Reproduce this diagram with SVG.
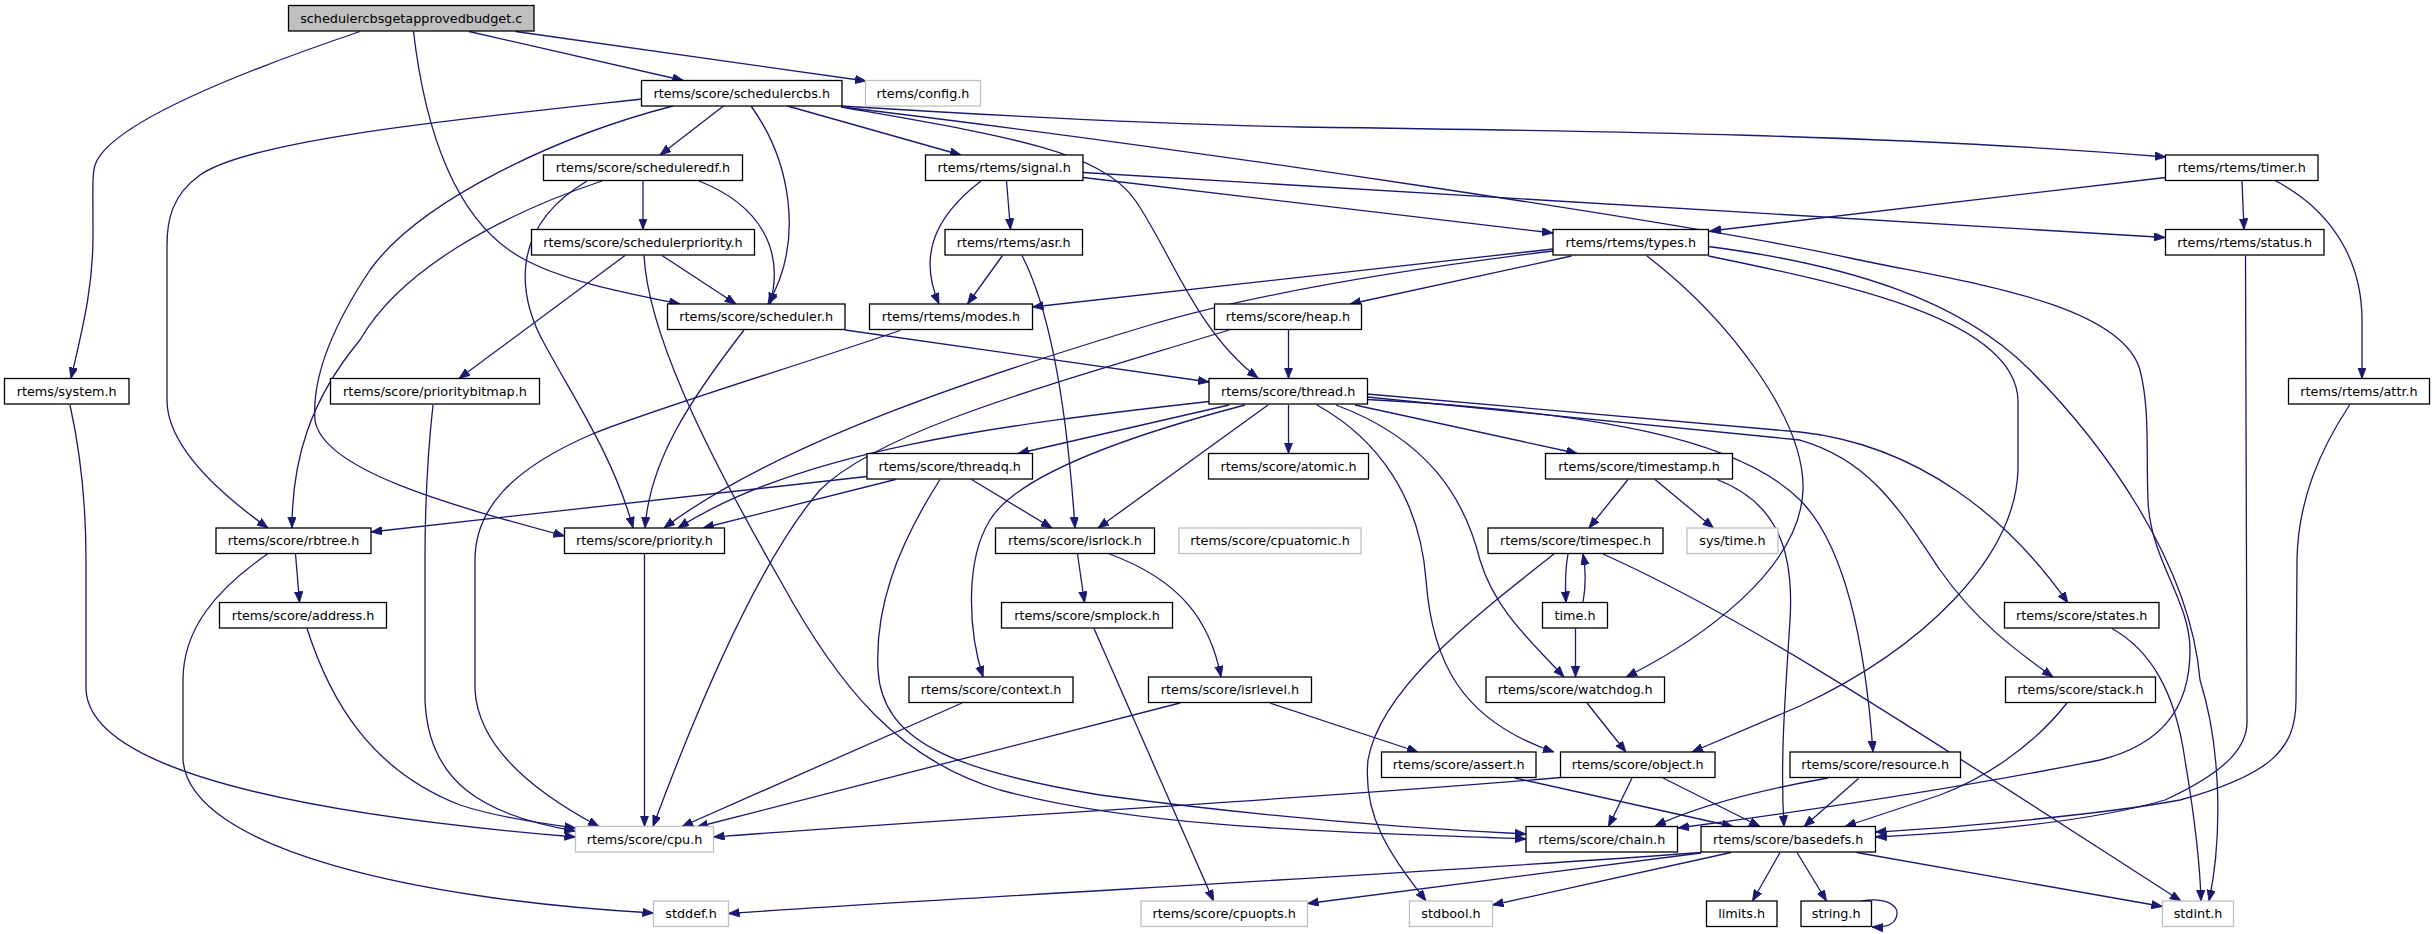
<svg xmlns="http://www.w3.org/2000/svg" width="2435" height="934" viewBox="0 0 2435 934">
<style>
.node rect{fill:#fff;stroke:#000;stroke-width:1.3}
.ext rect{stroke:#bfbfbf}
.main rect{fill:#bfbfbf}
text{font-family:'DejaVu Sans','Liberation Sans',sans-serif;font-size:12.8px;text-anchor:middle;fill:#000}
.e path{fill:none;stroke:#191970;stroke-width:1.3;marker-end:url(#ah)}
</style>
<defs>
<marker id="ah" markerWidth="12" markerHeight="9" refX="11" refY="4.2" orient="auto" markerUnits="userSpaceOnUse"><path d="M0,0 L11,4.2 L0,8.4 z" fill="#191970" stroke="#191970" stroke-width="0.8"/></marker>
</defs>
<rect width="2435" height="934" fill="#fff"/>
<g id="connectors" class="e">
<path d="M360,31.5 C270,62 110,120 95,165 C92,175 93,190 93,235 C93,290 82,330 71,378.5"/>
<path d="M469,31.5 L683.5,80.5"/>
<path d="M515.5,31.5 L866,81"/>
<path d="M413.5,31.5 C425,130 455,220 520,257 C560,280 620,292 680,304"/>
<path d="M723.5,106 L660,155"/>
<path d="M751,106 C790,160 805,240 768,304"/>
<path d="M787.5,106 L961,155"/>
<path d="M842,106 C1000,116 1150,124 1300,127 C1600,131 1900,135 2166,157"/>
<path d="M842,107 C1200,150 1700,225 1850,258 C1950,280 2120,300 2140,370 C2150,410 2146,450 2148,500 C2150,560 2190,600 2190,650 C2190,710 2160,745 2100,760 C2000,780 1850,805 1678,828"/>
<path d="M841,107 C1000,135 1100,150 1135,200 C1170,250 1195,330 1258,378"/>
<path d="M642,99 C450,120 250,140 200,175 C172,195 167,220 167,245 L167,400 C167,445 215,490 268,528"/>
<path d="M673,106 C560,135 420,200 370,270 C330,330 312,380 315,420 C322,470 450,505 564.5,536"/>
<path d="M643,181 L643,229.5"/>
<path d="M699,181 C760,205 785,250 770,304"/>
<path d="M602,181 C500,215 400,270 360,340 C310,400 292,460 292,528"/>
<path d="M587,181 C505,230 520,300 545,345 C575,400 615,460 633,528"/>
<path d="M662,255.5 L736,304"/>
<path d="M625,255.5 L459,378.5"/>
<path d="M644,255.5 C648,330 700,440 780,580 C840,690 900,760 1000,790 C1150,830 1350,832 1526,839"/>
<path d="M981,181 C930,220 920,260 939,304"/>
<path d="M1006.5,181 L1010.5,229.5"/>
<path d="M1083,177.5 L1553,233"/>
<path d="M1083,172.5 L2165,237.5"/>
<path d="M2165.5,177.5 L1710,231"/>
<path d="M2242,181 L2244,229.5"/>
<path d="M2276,181 C2340,215 2362,270 2362,320 L2362,378.5"/>
<path d="M1002.5,255.5 L967.5,304"/>
<path d="M1022,255.5 C1045,300 1065,380 1075,528"/>
<path d="M1553,249 L1032.5,307"/>
<path d="M1553,251 C1400,270 1250,295 1150,325 C1000,370 780,440 664,528"/>
<path d="M1571.5,256 L1350,304"/>
<path d="M1647,256 C1730,320 1805,420 1803,490 C1800,570 1700,640 1626,677"/>
<path d="M1708.5,256 C1850,285 2015,320 2018,400 L2018,470 C2015,560 1920,650 1800,706 L1692,752"/>
<path d="M1708.5,246.5 C1850,265 1960,300 2030,370 C2100,440 2190,560 2200,680 C2222,750 2222,840 2209,901"/>
<path d="M1288.5,330 L1288.5,378.5"/>
<path d="M1229,330 C1050,385 880,430 820,490 C760,560 700,700 653,826.5"/>
<path d="M900,330.5 C800,365 650,410 590,435 C510,470 475,510 475,560 L475,690 C478,745 530,790 599,826.5"/>
<path d="M744,330 C690,400 650,460 645,528"/>
<path d="M845,330 L1209,382"/>
<path d="M70,405 C80,450 86,500 86,560 L86,690 C90,760 250,810 575.5,837"/>
<path d="M433,405 C428,450 425,500 425,560 L425,700 C428,780 480,815 575.5,831"/>
<path d="M295.5,554 L299.5,602.5"/>
<path d="M267.5,554 C215,590 183,630 183,680 L183,760 C190,850 420,900 653.5,913"/>
<path d="M307,628.5 C330,700 370,770 460,805 C490,815 530,822 575.5,828"/>
<path d="M644.5,554 L644.5,826.5"/>
<path d="M867,476.5 L371,532"/>
<path d="M895.5,479.5 L703,528"/>
<path d="M971.5,479.5 L1052,528"/>
<path d="M940,479.5 C895,550 875,610 878,670 C882,740 950,770 1100,795 C1250,815 1400,828 1526,834"/>
<path d="M1209,401.5 C1000,425 800,450 678,528"/>
<path d="M1229,405 L1018,453.5"/>
<path d="M1245,405 C1150,430 1020,470 990,520 C965,560 968,630 983,677"/>
<path d="M1268,405 L1098,528"/>
<path d="M1288.5,405 L1288.5,453.5"/>
<path d="M1355,405 L1577.5,453.5"/>
<path d="M1317,405 C1380,440 1420,500 1426,580 C1432,660 1460,720 1554,752"/>
<path d="M1336,405 C1430,440 1465,500 1480,560 C1495,610 1530,640 1564,677"/>
<path d="M1367,394 L1800,432 C1920,445 2010,520 2068,603"/>
<path d="M1367,397 L1800,440 C1870,460 1900,510 1940,570 C1975,620 2015,650 2053,677"/>
<path d="M1367,399.5 C1600,412 1740,440 1800,500 C1845,545 1865,640 1873,752"/>
<path d="M1077.5,554 L1084.5,602.5"/>
<path d="M1109.5,554 C1180,580 1210,620 1221,677"/>
<path d="M1094,628.5 L1213.5,901"/>
<path d="M962,703 L682,826.5"/>
<path d="M1180,703 L697,827"/>
<path d="M1270,703 L1418,752"/>
<path d="M1628,479.5 L1589,528"/>
<path d="M1655,479.5 L1713.5,528"/>
<path d="M1717,479.5 C1770,500 1795,540 1790,620 C1785,700 1780,760 1784,826.5"/>
<path d="M1568,554 C1565,570 1565,585 1566,602.5"/>
<path d="M1554,554 C1470,620 1380,690 1368,760 C1362,820 1395,860 1426,901"/>
<path d="M1603,554 C1750,620 1900,720 2181,901"/>
<path d="M1583,602.5 C1586,585 1586,570 1583,554"/>
<path d="M1575.5,628.5 L1575.5,677"/>
<path d="M1587,703 L1626,752"/>
<path d="M1515,778 L1733,826.5"/>
<path d="M1561,777.5 C1300,800 1000,815 713.5,837"/>
<path d="M1632,778 L1608.5,826.5"/>
<path d="M1663,778 L1760,826.5"/>
<path d="M1828,778 C1760,790 1700,805 1655,826"/>
<path d="M1858.5,778.5 L1804,826.5"/>
<path d="M2067,703 C2030,750 1980,780 1940,795 C1900,808 1870,818 1845,826.5"/>
<path d="M2112,628.5 C2150,650 2175,690 2185,760 C2195,820 2200,860 2201,901"/>
<path d="M2245.5,255.5 L2247,720 C2248,745 2230,770 2165,800 C2080,825 1950,833 1875.5,837"/>
<path d="M2349.5,405 C2320,450 2298,500 2297,560 L2296,700 C2296,750 2270,775 2180,800 C2100,815 1950,828 1875.5,832"/>
<path d="M1701,852.5 C1400,875 1000,895 728.5,913.5"/>
<path d="M1701,853 L1307.5,903.5"/>
<path d="M1731,852.5 L1492.5,905"/>
<path d="M1780,852.5 L1752.5,901"/>
<path d="M1797,852.5 L1826.5,901"/>
<path d="M1856.5,852.5 L2162.5,906.5"/>
<path d="M1862,901 C1885,897 1898,905 1897,914 C1896,923 1888,928 1872,927"/>
</g>
<g id="n_main" class="node main"><rect x="288.5" y="5.5" width="245.5" height="25.5"/><text x="411.2" y="22.5">schedulercbsgetapprovedbudget.c</text></g>
<g id="n_schedulercbs" class="node"><rect x="641.5" y="80.5" width="200.5" height="25.5"/><text x="741.7" y="97.5">rtems/score/schedulercbs.h</text></g>
<g id="n_config" class="node ext"><rect x="865.5" y="80.5" width="115" height="25.5"/><text x="923" y="97.5">rtems/config.h</text></g>
<g id="n_scheduleredf" class="node"><rect x="543.5" y="155" width="199" height="25.5"/><text x="643" y="172">rtems/score/scheduleredf.h</text></g>
<g id="n_signal" class="node"><rect x="925.5" y="155" width="157.5" height="25.5"/><text x="1004.2" y="172">rtems/rtems/signal.h</text></g>
<g id="n_timer" class="node"><rect x="2165.5" y="155" width="152.5" height="25.5"/><text x="2241.7" y="172">rtems/rtems/timer.h</text></g>
<g id="n_schedulerpriority" class="node"><rect x="531.5" y="229.5" width="223" height="25.5"/><text x="643" y="246.5">rtems/score/schedulerpriority.h</text></g>
<g id="n_asr" class="node"><rect x="945" y="229.5" width="137.5" height="25.5"/><text x="1013.7" y="246.5">rtems/rtems/asr.h</text></g>
<g id="n_types" class="node"><rect x="1553" y="229.5" width="155.5" height="25.5"/><text x="1630.7" y="246.5">rtems/rtems/types.h</text></g>
<g id="n_status" class="node"><rect x="2165.5" y="229.5" width="158.5" height="25.5"/><text x="2244.7" y="246.5">rtems/rtems/status.h</text></g>
<g id="n_scheduler" class="node"><rect x="667.5" y="304" width="177.5" height="25.5"/><text x="756.2" y="321">rtems/score/scheduler.h</text></g>
<g id="n_modes" class="node"><rect x="869.5" y="304" width="163" height="25.5"/><text x="951" y="321">rtems/rtems/modes.h</text></g>
<g id="n_heap" class="node"><rect x="1214.5" y="304" width="147" height="25.5"/><text x="1288" y="321">rtems/score/heap.h</text></g>
<g id="n_system" class="node"><rect x="4.5" y="378.5" width="124.5" height="25.5"/><text x="66.7" y="395.5">rtems/system.h</text></g>
<g id="n_prioritybitmap" class="node"><rect x="330.5" y="378.5" width="209" height="25.5"/><text x="435" y="395.5">rtems/score/prioritybitmap.h</text></g>
<g id="n_thread" class="node"><rect x="1209" y="378.5" width="158.5" height="25.5"/><text x="1288.2" y="395.5">rtems/score/thread.h</text></g>
<g id="n_attr" class="node"><rect x="2288.5" y="378.5" width="141" height="25.5"/><text x="2359" y="395.5">rtems/rtems/attr.h</text></g>
<g id="n_threadq" class="node"><rect x="867" y="453.5" width="165.5" height="25.5"/><text x="949.7" y="470.5">rtems/score/threadq.h</text></g>
<g id="n_atomic" class="node"><rect x="1208.5" y="453.5" width="160" height="25.5"/><text x="1288.5" y="470.5">rtems/score/atomic.h</text></g>
<g id="n_timestamp" class="node"><rect x="1545.5" y="453.5" width="187" height="25.5"/><text x="1639" y="470.5">rtems/score/timestamp.h</text></g>
<g id="n_rbtree" class="node"><rect x="216" y="528" width="155" height="25.5"/><text x="293.5" y="545">rtems/score/rbtree.h</text></g>
<g id="n_priority" class="node"><rect x="564.5" y="528" width="160" height="25.5"/><text x="644.5" y="545">rtems/score/priority.h</text></g>
<g id="n_isrlock" class="node"><rect x="995.5" y="528" width="159" height="25.5"/><text x="1075" y="545">rtems/score/isrlock.h</text></g>
<g id="n_cpuatomic" class="node ext"><rect x="1179" y="528" width="182" height="25.5"/><text x="1270" y="545">rtems/score/cpuatomic.h</text></g>
<g id="n_timespec" class="node"><rect x="1488" y="528" width="175" height="25.5"/><text x="1575.5" y="545">rtems/score/timespec.h</text></g>
<g id="n_systime" class="node ext"><rect x="1687" y="528" width="91" height="25.5"/><text x="1732.5" y="545">sys/time.h</text></g>
<g id="n_address" class="node"><rect x="219.5" y="602.5" width="167" height="25.5"/><text x="303" y="619.5">rtems/score/address.h</text></g>
<g id="n_smplock" class="node"><rect x="1001.5" y="602.5" width="171" height="25.5"/><text x="1087" y="619.5">rtems/score/smplock.h</text></g>
<g id="n_time" class="node"><rect x="1542.5" y="602.5" width="65" height="25.5"/><text x="1575" y="619.5">time.h</text></g>
<g id="n_states" class="node"><rect x="2004.5" y="602.5" width="154.5" height="25.5"/><text x="2081.7" y="619.5">rtems/score/states.h</text></g>
<g id="n_context" class="node"><rect x="909" y="677" width="164" height="25.5"/><text x="991" y="694">rtems/score/context.h</text></g>
<g id="n_isrlevel" class="node"><rect x="1148.5" y="677" width="163" height="25.5"/><text x="1230" y="694">rtems/score/isrlevel.h</text></g>
<g id="n_watchdog" class="node"><rect x="1486" y="677" width="178.5" height="25.5"/><text x="1575.2" y="694">rtems/score/watchdog.h</text></g>
<g id="n_stack" class="node"><rect x="2005.5" y="677" width="150" height="25.5"/><text x="2080.5" y="694">rtems/score/stack.h</text></g>
<g id="n_assert" class="node"><rect x="1381.5" y="752" width="154.5" height="25.5"/><text x="1458.7" y="769">rtems/score/assert.h</text></g>
<g id="n_object" class="node"><rect x="1560.5" y="752" width="154.5" height="25.5"/><text x="1637.7" y="769">rtems/score/object.h</text></g>
<g id="n_resource" class="node"><rect x="1790" y="752" width="170.5" height="25.5"/><text x="1875.2" y="769">rtems/score/resource.h</text></g>
<g id="n_cpu" class="node ext"><rect x="575.5" y="826.5" width="138" height="25.5"/><text x="644.5" y="843.5">rtems/score/cpu.h</text></g>
<g id="n_chain" class="node"><rect x="1526" y="826.5" width="151.5" height="25.5"/><text x="1601.7" y="843.5">rtems/score/chain.h</text></g>
<g id="n_basedefs" class="node"><rect x="1701" y="826.5" width="174.5" height="25.5"/><text x="1788.2" y="843.5">rtems/score/basedefs.h</text></g>
<g id="n_stddef" class="node ext"><rect x="653.5" y="901" width="75" height="25.5"/><text x="691" y="918">stddef.h</text></g>
<g id="n_cpuopts" class="node ext"><rect x="1141" y="901" width="166.5" height="25.5"/><text x="1224.2" y="918">rtems/score/cpuopts.h</text></g>
<g id="n_stdbool" class="node ext"><rect x="1409.5" y="901" width="83" height="25.5"/><text x="1451" y="918">stdbool.h</text></g>
<g id="n_limits" class="node"><rect x="1706.5" y="901" width="70.5" height="25.5"/><text x="1741.7" y="918">limits.h</text></g>
<g id="n_string" class="node"><rect x="1801" y="901" width="70.5" height="25.5"/><text x="1836.2" y="918">string.h</text></g>
<g id="n_stdint" class="node ext"><rect x="2162.5" y="901" width="71" height="25.5"/><text x="2198" y="918">stdint.h</text></g>
</svg>
